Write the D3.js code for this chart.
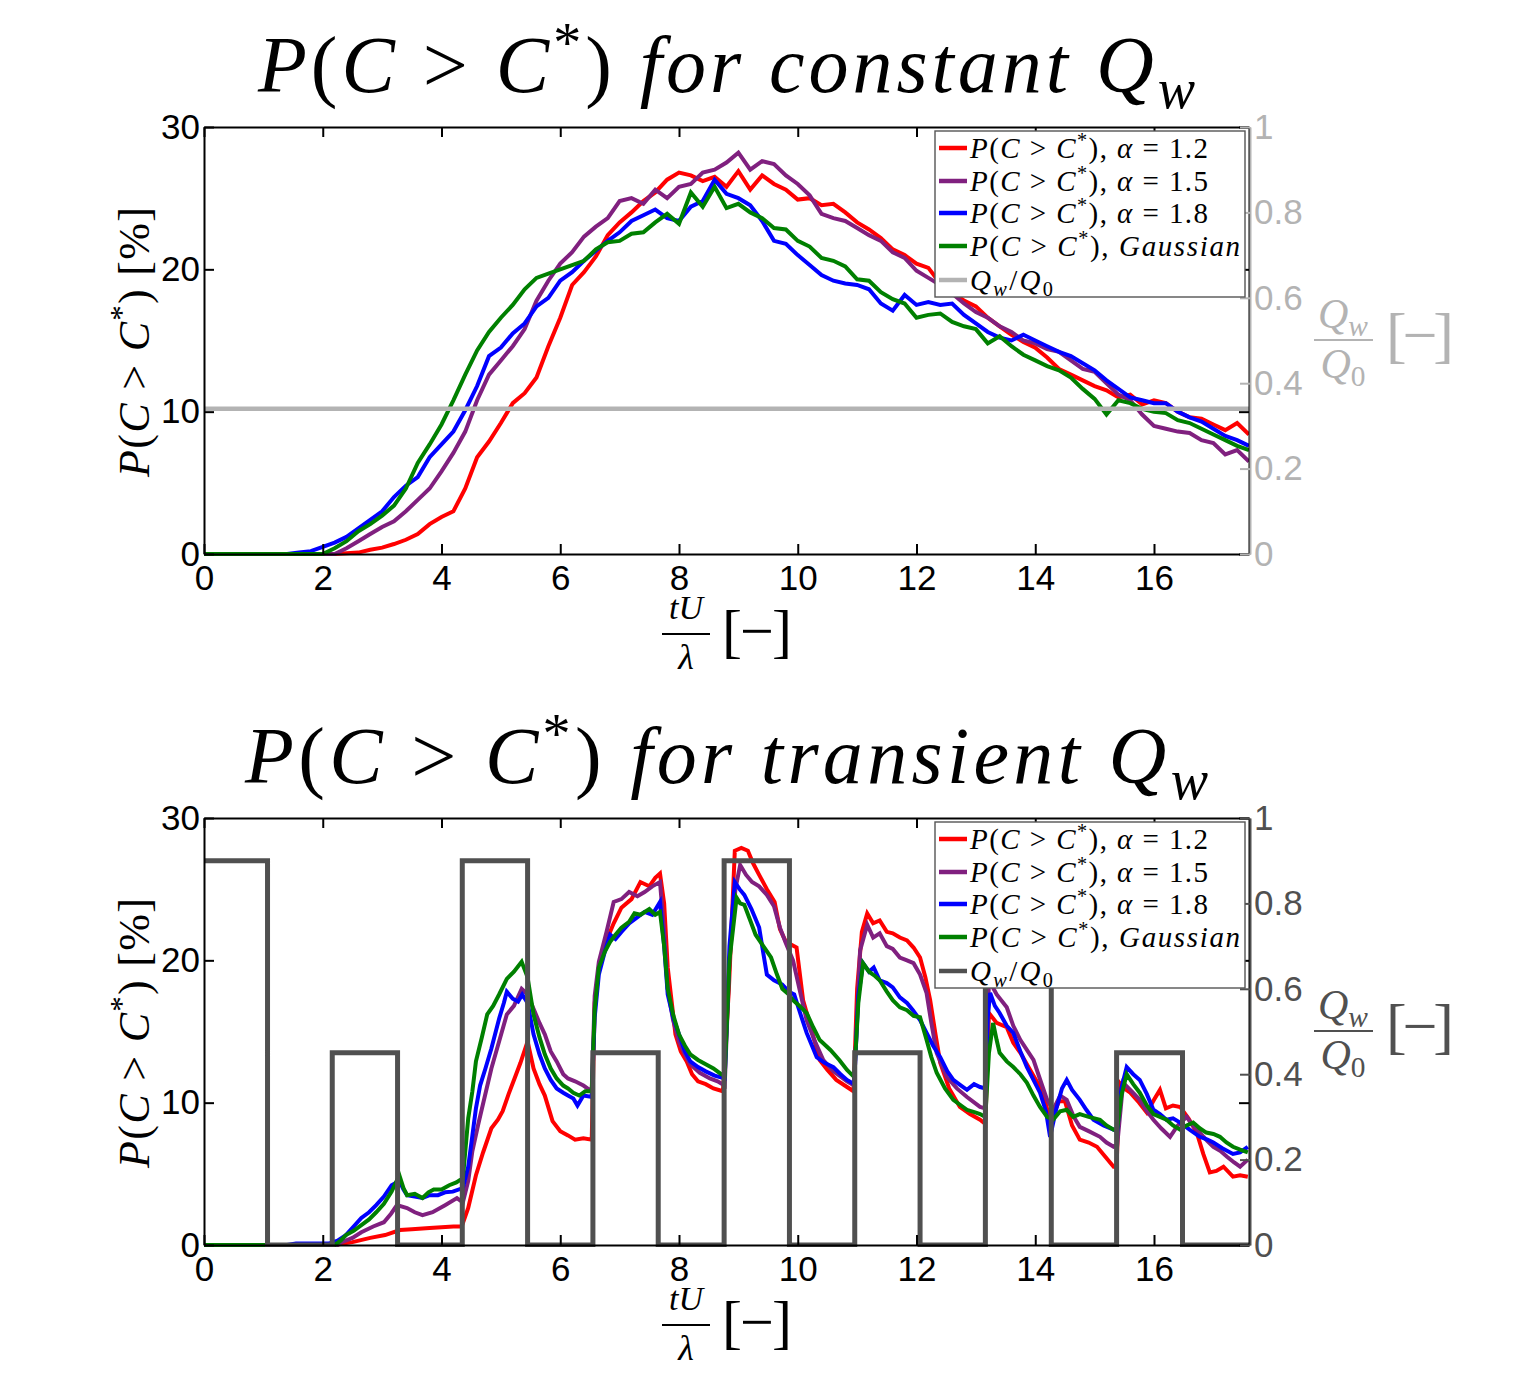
<!DOCTYPE html>
<html>
<head>
<meta charset="utf-8">
<script src="https://cdnjs.cloudflare.com/ajax/libs/d3/7.8.5/d3.min.js"></script>
<style>
  html, body { margin: 0; padding: 0; background: #fff; }
  svg { display: block; }
</style>
</head>
<body>
<svg id="chart" width="1537" height="1380"></svg>
<script>
// ---------- data: constant-flow run (sampled every 0.2 tU/λ) ----------
const tConst = [0,0.2,0.4,0.6,0.8,1,1.2,1.4,1.6,1.8,2,2.2,2.4,2.6,2.8,3,3.2,3.4,3.6,3.8,4,4.2,4.4,4.6,4.8,5,5.2,5.4,5.6,5.8,6,6.2,6.4,6.6,6.8,7,7.2,7.4,7.6,7.8,8,8.2,8.4,8.6,8.8,9,9.2,9.4,9.6,9.8,10,10.2,10.4,10.6,10.8,11,11.2,11.4,11.6,11.8,12,12.2,12.4,12.6,12.8,13,13.2,13.4,13.6,13.8,14,14.2,14.4,14.6,14.8,15,15.2,15.4,15.6,15.8,16,16.2,16.4,16.6,16.8,17,17.2,17.4,17.6];

const pConstA12 = [0,0,0,0,0,0,0,0,0,0,0,0,0.05,0.1,0.3,0.45,0.7,1.0,1.4,2.1,2.6,3.0,4.6,6.8,7.9,9.2,10.6,11.3,12.4,14.6,16.6,18.9,19.8,20.9,22.4,23.3,24.0,24.8,25.4,26.3,26.8,26.6,26.2,26.5,25.8,26.9,25.6,26.6,26.0,25.6,24.9,25.0,24.5,24.6,24.0,23.3,22.8,22.2,21.4,21.0,20.4,20.1,19.0,18.4,17.8,17.4,16.6,16.0,15.4,14.9,14.5,13.8,13.0,12.6,12.2,11.8,11.5,11.0,11.2,10.5,10.8,10.6,10.0,9.6,9.5,9.1,8.7,9.2,8.4];

const pConstA15 = [0,0,0,0,0,0,0,0,0,0,0,0,0.4,0.9,1.4,1.9,2.3,3.0,3.8,4.6,5.8,7.1,8.6,10.8,12.6,13.6,14.6,15.8,17.8,19.2,20.4,21.2,22.3,23.0,23.6,24.8,25.0,24.6,25.6,25.0,25.8,26.0,26.8,27.0,27.5,28.2,27.0,27.6,27.4,26.6,26.0,25.2,23.9,23.6,23.4,22.9,22.4,22.0,21.2,20.8,19.9,19.4,18.9,18.3,17.6,17.0,16.6,16.0,15.6,15.0,14.8,14.4,14.2,13.6,13.0,12.8,12.0,11.2,10.8,9.8,9.0,8.8,8.6,8.5,8.0,7.8,7.0,7.3,6.5];

const pConstA18 = [0,0,0,0,0,0,0,0,0.1,0.2,0.5,0.8,1.2,1.8,2.4,3.0,4.0,4.8,5.4,6.8,7.7,8.6,10.1,11.8,13.9,14.5,15.5,16.2,17.4,18.0,19.2,19.8,20.6,21.3,22.0,22.6,23.4,23.8,24.2,23.6,23.4,24.4,24.8,26.3,25.3,25.0,24.5,23.4,22.0,21.8,21.0,20.3,19.6,19.2,19.0,18.9,18.6,17.6,17.1,18.2,17.5,17.7,17.5,17.6,16.8,16.2,15.6,15.2,15.0,15.4,15.0,14.6,14.2,13.9,13.4,12.9,12.2,11.6,11.0,10.8,10.6,10.6,10.0,9.6,9.3,8.8,8.3,8.0,7.6];

const pConstGauss = [0,0,0,0,0,0,0,0,0,0,0,0.4,0.9,1.6,2.1,2.7,3.4,4.6,6.4,7.7,9.1,10.8,12.6,14.3,15.6,16.6,17.5,18.6,19.4,19.7,20.0,20.3,20.6,21.4,21.9,22.0,22.5,22.6,23.3,23.9,23.2,25.4,24.4,25.8,24.3,24.6,24.0,23.6,22.9,22.8,22.0,21.6,20.8,20.6,20.2,19.3,19.2,18.4,17.9,17.6,16.6,16.8,16.9,16.3,16.0,15.8,14.8,15.3,14.6,14.0,13.6,13.2,12.9,12.4,11.6,10.9,9.8,10.8,10.6,10.2,10.0,9.9,9.4,9.2,8.8,8.4,8.0,7.6,7.3];

// steady well-flow ratio
const qConstT = [0, 17.6];
const qConst = [0.34, 0.34];

// ---------- data: transient-flow run ([tU/λ, %]) ----------
const pTransA12 = [[0,0],[2.2,0],[2.5,0.2],[2.8,0.5],[3.05,0.7],[3.3,1.05],[3.5,1.1],[3.8,1.2],[4.0,1.25],[4.2,1.3],[4.34,1.3],[4.45,2.6],[4.58,4.9],[4.7,6.5],[4.84,8.2],[4.95,8.8],[5.03,9.4],[5.13,10.6],[5.23,11.7],[5.33,12.8],[5.45,14.3],[5.55,12.4],[5.65,11.3],[5.74,10.5],[5.87,8.7],[6.0,8.0],[6.13,7.7],[6.25,7.4],[6.39,7.5],[6.53,7.4],[6.58,17.0],[6.65,19.5],[6.77,21.3],[6.9,22.6],[7.03,23.7],[7.2,24.3],[7.35,25.5],[7.5,25.2],[7.6,25.8],[7.68,26.1],[7.75,24.0],[7.81,19.5],[7.94,14.8],[8.03,13.6],[8.13,12.9],[8.22,12.0],[8.32,11.5],[8.45,11.3],[8.58,11.0],[8.74,10.8],[8.84,18.0],[8.94,27.7],[9.05,27.9],[9.16,27.7],[9.25,26.8],[9.35,26.0],[9.48,25.0],[9.61,24.1],[9.7,22.2],[9.8,21.3],[9.98,20.9],[10.09,17.2],[10.2,15.6],[10.37,13.0],[10.5,12.3],[10.65,11.6],[10.83,11.1],[10.94,10.8],[11.0,18.0],[11.08,22.0],[11.17,23.3],[11.27,22.6],[11.38,22.8],[11.5,22.0],[11.6,21.9],[11.72,21.6],[11.84,21.4],[11.95,20.9],[12.06,20.2],[12.15,18.8],[12.23,17.2],[12.32,14.8],[12.4,12.8],[12.55,11.0],[12.73,9.7],[12.9,9.2],[13.07,8.8],[13.16,8.5],[13.22,16.3],[13.35,15.6],[13.52,15.3],[13.63,14.2],[13.75,13.5],[13.9,12.4],[14.08,11.1],[14.2,9.6],[14.27,8.8],[14.4,10.1],[14.5,10.1],[14.62,8.4],[14.75,7.4],[14.9,7.2],[15.04,6.9],[15.18,6.2],[15.32,5.5],[15.37,5.5],[15.42,11.4],[15.5,11.0],[15.6,10.7],[15.75,10.0],[15.88,9.3],[16.0,10.2],[16.1,10.9],[16.2,9.6],[16.32,9.8],[16.44,9.7],[16.58,8.9],[16.72,7.9],[16.83,6.4],[16.94,5.1],[17.05,5.2],[17.17,5.5],[17.33,4.8],[17.45,4.9],[17.58,4.8]];

const pTransA15 = [[0,0],[2.25,0],[2.32,0.2],[2.5,0.5],[2.65,0.9],[2.85,1.3],[3.03,1.6],[3.15,2.2],[3.25,2.8],[3.42,2.6],[3.55,2.3],[3.68,2.1],[3.85,2.3],[4.06,2.8],[4.26,3.3],[4.36,3.0],[4.45,4.5],[4.52,6.6],[4.62,8.5],[4.71,10.1],[4.84,12.4],[4.97,14.3],[5.1,16.2],[5.22,16.8],[5.35,18.0],[5.45,17.6],[5.55,16.6],[5.65,15.6],[5.74,14.8],[5.84,13.6],[5.94,12.9],[6.05,12.0],[6.13,11.7],[6.25,11.5],[6.39,11.2],[6.53,10.8],[6.58,17.5],[6.65,19.9],[6.78,22.0],[6.9,24.1],[7.03,24.3],[7.16,24.8],[7.3,24.5],[7.42,24.8],[7.55,25.2],[7.68,25.5],[7.75,22.0],[7.81,18.0],[7.9,15.8],[8.0,14.3],[8.1,13.4],[8.19,12.7],[8.35,12.1],[8.52,11.7],[8.65,11.5],[8.77,11.2],[8.85,20.0],[8.95,25.0],[9.03,26.7],[9.13,26.0],[9.23,25.5],[9.35,25.2],[9.48,24.6],[9.6,23.8],[9.7,22.3],[9.8,21.2],[9.92,20.0],[10.05,17.6],[10.15,15.8],[10.3,14.2],[10.43,13.0],[10.6,12.2],[10.83,11.5],[10.95,11.2],[11.02,18.0],[11.05,20.7],[11.17,22.5],[11.27,21.6],[11.38,21.9],[11.5,21.0],[11.6,20.8],[11.72,20.2],[11.84,20.0],[11.95,19.8],[12.06,19.0],[12.17,17.7],[12.25,15.6],[12.34,13.5],[12.51,11.8],[12.68,11.0],[12.85,10.4],[13.07,9.7],[13.16,9.6],[13.22,18.6],[13.35,17.6],[13.52,16.7],[13.63,15.4],[13.75,14.4],[13.97,13.0],[14.1,11.4],[14.2,10.2],[14.3,9.5],[14.42,10.5],[14.53,10.2],[14.65,9.0],[14.75,8.3],[14.9,8.0],[15.09,7.6],[15.2,7.2],[15.32,6.9],[15.38,7.0],[15.48,11.4],[15.6,10.9],[15.76,10.2],[15.88,9.4],[15.99,8.8],[16.12,8.2],[16.27,7.6],[16.4,8.4],[16.55,9.0],[16.65,8.4],[16.77,7.9],[16.9,7.3],[17.0,6.9],[17.12,6.6],[17.23,6.2],[17.35,5.8],[17.45,5.5],[17.58,6.0]];

const pTransA18 = [[0,0],[1.4,0],[1.55,0.1],[2.1,0.1],[2.25,0.3],[2.39,0.7],[2.52,1.3],[2.65,1.9],[2.78,2.3],[2.9,2.8],[3.03,3.4],[3.16,4.2],[3.29,4.5],[3.36,3.9],[3.42,3.5],[3.55,3.4],[3.68,3.3],[3.8,3.5],[3.94,3.5],[4.06,3.7],[4.19,3.75],[4.36,4.0],[4.45,5.5],[4.52,7.7],[4.58,9.6],[4.65,11.2],[4.74,12.4],[4.84,13.8],[4.97,15.9],[5.05,17.0],[5.1,17.8],[5.2,17.3],[5.29,17.1],[5.36,17.6],[5.45,17.0],[5.55,14.8],[5.65,13.4],[5.74,12.4],[5.84,11.6],[5.94,11.0],[6.05,10.7],[6.13,10.5],[6.22,10.3],[6.29,9.8],[6.39,10.5],[6.53,10.4],[6.58,16.0],[6.65,19.0],[6.75,20.6],[6.84,21.8],[6.93,21.5],[7.03,22.0],[7.16,22.6],[7.29,23.0],[7.42,23.4],[7.55,23.2],[7.68,24.1],[7.75,21.0],[7.81,17.6],[7.9,16.0],[8.0,14.8],[8.1,13.6],[8.19,12.9],[8.32,12.5],[8.45,12.2],[8.6,11.9],[8.77,11.7],[8.85,21.0],[8.94,25.5],[9.02,25.0],[9.1,24.6],[9.22,23.6],[9.35,22.3],[9.42,20.5],[9.48,19.0],[9.6,18.6],[9.74,18.3],[9.85,17.8],[9.94,17.6],[10.04,16.3],[10.15,14.9],[10.32,13.2],[10.45,12.8],[10.6,12.5],[10.72,12.0],[10.83,11.6],[10.95,11.3],[11.02,17.5],[11.1,19.8],[11.2,19.2],[11.28,19.5],[11.38,18.6],[11.5,18.4],[11.6,18.1],[11.72,17.4],[11.84,17.0],[11.94,16.5],[12.06,15.8],[12.17,14.9],[12.28,14.0],[12.4,13.2],[12.52,12.2],[12.62,11.6],[12.75,11.2],[12.85,10.9],[12.97,11.3],[13.07,11.1],[13.16,11.0],[13.2,16.0],[13.24,17.7],[13.32,16.8],[13.4,16.3],[13.52,15.4],[13.63,14.9],[13.75,13.6],[13.86,12.5],[13.97,11.6],[14.08,10.7],[14.18,9.4],[14.25,7.6],[14.35,9.5],[14.45,11.0],[14.53,11.6],[14.62,10.9],[14.75,10.2],[14.86,9.5],[14.98,8.8],[15.15,8.4],[15.32,8.1],[15.38,8.0],[15.45,11.0],[15.54,12.5],[15.65,12.0],[15.76,11.6],[15.88,10.6],[15.99,9.5],[16.1,9.2],[16.21,8.8],[16.32,8.9],[16.44,8.6],[16.6,8.1],[16.77,7.6],[16.9,7.4],[17.0,7.2],[17.15,6.8],[17.33,6.4],[17.45,6.5],[17.58,6.9]];

const pTransGauss = [[0,0],[2.2,0],[2.3,0.3],[2.39,0.7],[2.52,1.0],[2.65,1.4],[2.78,1.8],[2.9,2.3],[3.03,2.9],[3.16,3.75],[3.29,4.9],[3.36,4.0],[3.42,3.5],[3.55,3.6],[3.68,3.3],[3.78,3.7],[3.87,3.9],[4.0,3.9],[4.13,4.2],[4.25,4.4],[4.36,4.7],[4.45,8.9],[4.52,10.8],[4.58,12.9],[4.68,14.6],[4.77,16.2],[4.87,16.8],[4.97,17.6],[5.1,18.7],[5.22,19.2],[5.35,19.9],[5.45,18.8],[5.55,16.2],[5.65,14.6],[5.74,13.4],[5.84,12.4],[5.94,11.7],[6.05,11.2],[6.13,11.0],[6.22,10.7],[6.32,10.5],[6.42,10.8],[6.53,10.8],[6.58,16.5],[6.65,19.5],[6.75,20.6],[6.84,21.3],[6.93,21.8],[7.03,22.3],[7.16,22.7],[7.25,23.3],[7.35,23.2],[7.5,23.6],[7.6,23.2],[7.68,23.4],[7.75,21.0],[7.81,18.0],[7.9,16.2],[8.0,14.8],[8.1,14.0],[8.19,13.4],[8.32,13.0],[8.45,12.7],[8.58,12.4],[8.71,12.0],[8.77,11.9],[8.85,20.0],[8.97,24.4],[9.03,24.0],[9.1,23.9],[9.2,22.8],[9.29,21.8],[9.42,21.0],[9.55,20.2],[9.65,19.0],[9.74,18.0],[9.85,17.6],[9.92,17.2],[10.03,16.8],[10.15,16.3],[10.26,15.3],[10.37,14.4],[10.55,13.7],[10.7,13.0],[10.83,12.3],[10.95,11.8],[11.02,17.0],[11.1,19.8],[11.2,19.2],[11.3,18.9],[11.38,18.6],[11.5,17.8],[11.6,17.2],[11.72,16.7],[11.84,16.5],[11.95,16.1],[12.06,16.0],[12.17,14.4],[12.25,13.2],[12.34,12.1],[12.48,11.0],[12.62,10.2],[12.75,9.8],[12.85,9.5],[13.0,9.3],[13.07,9.2],[13.16,9.0],[13.22,13.5],[13.29,15.6],[13.35,14.4],[13.4,13.5],[13.52,12.9],[13.63,12.5],[13.75,12.0],[13.86,11.4],[13.97,10.5],[14.08,9.7],[14.2,9.0],[14.3,8.8],[14.42,9.4],[14.53,9.5],[14.64,9.0],[14.75,9.2],[14.9,9.0],[15.09,8.8],[15.2,8.4],[15.32,8.1],[15.38,8.1],[15.45,10.5],[15.54,12.0],[15.65,11.3],[15.76,10.7],[15.88,9.8],[15.99,9.2],[16.1,9.0],[16.21,8.8],[16.32,8.4],[16.44,8.1],[16.55,8.4],[16.66,8.6],[16.77,8.2],[16.88,7.9],[17.0,7.8],[17.11,7.6],[17.22,7.2],[17.33,6.9],[17.45,6.7],[17.58,6.5]];

// pulsed well-flow schedule: switching times and the level held after each
const qSwitchT = [0,1.07,2.16,3.26,4.35,5.45,6.55,7.65,8.76,9.86,10.96,12.06,13.16,14.27,15.37,16.48,17.6];
const qSwitchLevel = [0.9,0,0.45,0,0.9,0,0.45,0,0.9,0,0.45,0,0.9,0,0.45,0,0];

// ticks
const xTicks = [0,2,4,6,8,10,12,14,16];
const yLeftTicks = [0,10,20,30];
const yRightTicks = [0,0.2,0.4,0.6,0.8,1];

const seriesColors = { a12: "#ff0000", a15: "#80207f", a18: "#0000ff", gauss: "#008000" };

// ---------- drawing ----------
const svg = d3.select("#chart");
const SERIF = "'Liberation Serif', 'Times New Roman', serif";
const SANS = "'Liberation Sans', Arial, Helvetica, sans-serif";

const x = d3.scaleLinear().domain([0, 17.6]).range([204, 1249]);

// writes a LaTeX-like math string as tspans
function addMath(parent, o) {
  const t = parent.append("text")
    .attr("x", o.x).attr("y", o.y)
    .attr("font-family", SERIF)
    .attr("font-size", o.size)
    .attr("fill", o.fill || "#000")
    .attr("text-anchor", o.anchor || "start");
  if (o.transform) t.attr("transform", o.transform);
  let shift = 0;
  o.parts.forEach(p => {
    const ts = t.append("tspan").text(p[0]).attr("font-style", p[1] ? "italic" : "normal");
    const pos = p[2];
    const target = pos === "sup" ? -0.38 * o.size : pos === "sub" ? 0.2 * o.size : 0;
    if (target !== shift) { ts.attr("dy", target - shift); shift = target; }
    if (pos) ts.attr("font-size", o.size * 0.7);
  });
  if (o.len) t.attr("textLength", o.len).attr("lengthAdjust", "spacing");
  return t;
}

const PCC = [["P",1],["(",0],["C",1],[" > ",0],["C",1],["*",0,"sup"],[")",0]];
const QWQ0 = [["Q",1],["w",1,"sub"],["/",0],["Q",1],["0",0,"sub"]];

function legendLabels() {
  return [
    { parts: PCC.concat([[", ",0],["α",1],[" = 1.2",0]]), len: 238 },
    { parts: PCC.concat([[", ",0],["α",1],[" = 1.5",0]]), len: 238 },
    { parts: PCC.concat([[", ",0],["α",1],[" = 1.8",0]]), len: 238 },
    { parts: PCC.concat([[", ",0],["Gaussian",1]]), len: 270 },
    { parts: QWQ0, len: 83 }
  ];
}

function drawPanel(cfg) {
  const top = cfg.top, bottom = cfg.top + 427;
  const yL = d3.scaleLinear().domain([0, 30]).range([bottom, top]);
  const yR = d3.scaleLinear().domain([0, 1]).range([bottom, top]);
  const g = svg.append("g");

  const clipId = "clip" + cfg.id;
  svg.append("clipPath").attr("id", clipId)
    .append("rect").attr("x", 204).attr("y", top - 2).attr("width", 1046).attr("height", 431);

  // title
  addMath(g, { x: cfg.titleX, y: top - 35, size: 80, parts: PCC.concat([[" for " + cfg.word + " ",1],["Q",1],["w",1,"sub"]]), len: cfg.titleLen });

  const plot = g.append("g").attr("clip-path", `url(#${clipId})`);
  const line = d3.line().x(d => x(d[0])).y(d => yL(d[1]));
  cfg.series.forEach(s => {
    plot.append("path").datum(s.data)
      .attr("fill", "none").attr("stroke", s.color).attr("stroke-width", 4)
      .attr("stroke-linejoin", "miter").attr("d", line);
  });

  // well-flow ratio on the right-hand scale
  const qLine = d3.line().x(d => x(d[0])).y(d => yR(d[1])).curve(cfg.qCurve);
  plot.append("path").datum(cfg.qData)
    .attr("fill", "none").attr("stroke", cfg.qColor).attr("stroke-width", cfg.qWidth)
    .attr("d", qLine);

  // axes (boxed, ticks pointing inward)
  const styleAxis = (sel, color) => {
    sel.selectAll("path.domain").attr("stroke", color).attr("stroke-width", 2);
    sel.selectAll(".tick line").attr("stroke", color).attr("stroke-width", 2);
    sel.selectAll(".tick text").attr("fill", color).attr("font-family", SANS).attr("font-size", 35);
  };
  styleAxis(g.append("g").attr("transform", `translate(0,${top})`)
    .call(d3.axisTop(x).tickValues(xTicks).tickSize(-10).tickSizeOuter(0).tickFormat("")), "#000");
  styleAxis(g.append("g").attr("transform", `translate(1249,0)`)
    .call(d3.axisRight(yL).tickValues(yLeftTicks).tickSize(-10).tickSizeOuter(0).tickFormat("")), "#000");
  styleAxis(g.append("g").attr("transform", `translate(0,${bottom})`)
    .call(d3.axisBottom(x).tickValues(xTicks).tickSize(-10).tickSizeOuter(0).tickPadding(11).tickFormat(d3.format("d"))), "#000");
  styleAxis(g.append("g").attr("transform", `translate(204,0)`)
    .call(d3.axisLeft(yL).tickValues(yLeftTicks).tickSize(-10).tickSizeOuter(0).tickPadding(4).tickFormat(d3.format("d"))), "#000");
  styleAxis(g.append("g").attr("transform", `translate(1250,0)`)
    .call(d3.axisRight(yR).tickValues(yRightTicks).tickSize(-10).tickSizeOuter(0).tickPadding(4).tickFormat(d3.format("~g"))), cfg.rightColor);

  // left axis label
  addMath(g, { x: 0, y: 0, size: 44, anchor: "middle", transform: `translate(149,${top + 215}) rotate(-90)`,
    parts: PCC.concat([[" [%]",0]]), len: 270 });

  // x axis label: tU/λ [−]
  const xl = g.append("g");
  addMath(xl, { x: 686, y: bottom + 65, size: 34, anchor: "middle", parts: [["tU",1]] });
  xl.append("line").attr("x1", 662).attr("x2", 710).attr("y1", bottom + 80).attr("y2", bottom + 80)
    .attr("stroke", "#000").attr("stroke-width", 2);
  addMath(xl, { x: 686, y: bottom + 115, size: 36, anchor: "middle", parts: [["λ",1]] });
  addMath(xl, { x: 722, y: bottom + 97, size: 60, parts: [["[−]",0]], len: 70 });

  // right axis label: Qw/Q0 [−]
  const rl = g.append("g");
  const rc = cfg.rightColor, rmid = top + 213;
  addMath(rl, { x: 1343, y: rmid - 12, size: 42, anchor: "middle", fill: rc, parts: [["Q",1],["w",1,"sub"]] });
  rl.append("line").attr("x1", 1314).attr("x2", 1373).attr("y1", rmid).attr("y2", rmid)
    .attr("stroke", rc).attr("stroke-width", 2);
  addMath(rl, { x: 1343, y: rmid + 38, size: 42, anchor: "middle", fill: rc, parts: [["Q",1],["0",0,"sub"]] });
  addMath(rl, { x: 1386, y: rmid + 16, size: 62, fill: rc, parts: [["[−]",0]], len: 68 });

  // legend
  const lg = g.append("g");
  const lx = 935, ly = top + 4;
  lg.append("rect").attr("x", lx).attr("y", ly).attr("width", 310).attr("height", 166)
    .attr("fill", "#fff").attr("stroke", "#555").attr("stroke-width", 1.4);
  const labels = legendLabels();
  const colors = cfg.series.map(s => s.color).concat([cfg.qColor]);
  const rows = [17, 50, 82, 115, 149];
  labels.forEach((lab, i) => {
    const cy = ly + rows[i];
    lg.append("line").attr("x1", 939).attr("x2", 967).attr("y1", cy).attr("y2", cy)
      .attr("stroke", colors[i]).attr("stroke-width", 4.5);
    addMath(lg, { x: 970, y: cy + 10, size: 29, parts: lab.parts, len: lab.len });
  });
}

const constSeries = [
  { color: seriesColors.a12, data: tConst.map((t, i) => [t, pConstA12[i]]) },
  { color: seriesColors.a15, data: tConst.map((t, i) => [t, pConstA15[i]]) },
  { color: seriesColors.a18, data: tConst.map((t, i) => [t, pConstA18[i]]) },
  { color: seriesColors.gauss, data: tConst.map((t, i) => [t, pConstGauss[i]]) }
];
const transSeries = [
  { color: seriesColors.a12, data: pTransA12 },
  { color: seriesColors.a15, data: pTransA15 },
  { color: seriesColors.a18, data: pTransA18 },
  { color: seriesColors.gauss, data: pTransGauss }
];

drawPanel({
  id: "const", top: 127, word: "constant", titleX: 258, titleLen: 937,
  series: constSeries,
  qData: qConstT.map((t, i) => [t, qConst[i]]), qCurve: d3.curveLinear,
  qColor: "#b3b3b3", qWidth: 4.5, rightColor: "#b3b3b3"
});
drawPanel({
  id: "trans", top: 818, word: "transient", titleX: 245, titleLen: 963,
  series: transSeries,
  qData: qSwitchT.map((t, i) => [t, qSwitchLevel[i]]), qCurve: d3.curveStepAfter,
  qColor: "#505050", qWidth: 5, rightColor: "#505050"
});
</script>
</body>
</html>
